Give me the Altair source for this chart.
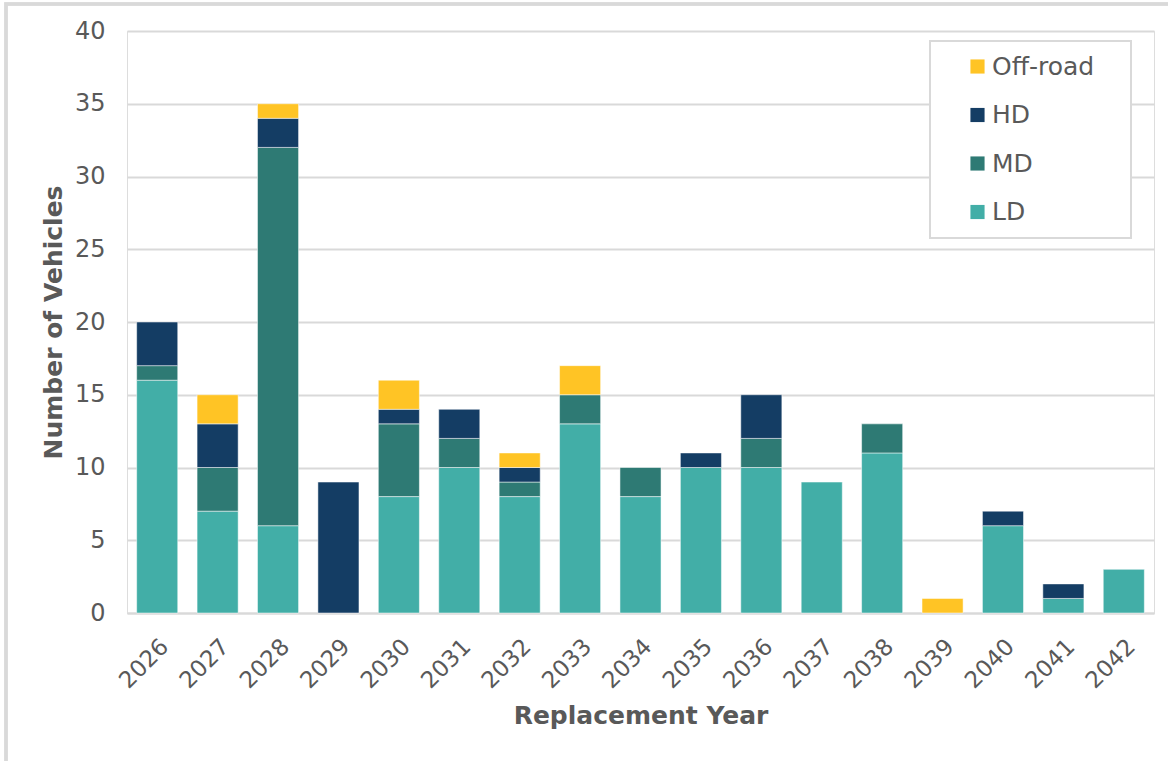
import altair as alt
import pandas as pd

years = [str(y) for y in range(2026, 2043)]
ld = [16, 7, 6, 0, 8, 10, 8, 13, 8, 10, 10, 9, 11, 0, 6, 1, 3]
md = [1, 3, 26, 0, 5, 2, 1, 2, 2, 0, 2, 0, 2, 0, 0, 0, 0]
hd = [3, 3, 2, 9, 1, 2, 1, 0, 0, 1, 3, 0, 0, 0, 1, 1, 0]
offroad = [0, 2, 1, 0, 2, 0, 1, 2, 0, 0, 0, 0, 0, 1, 0, 0, 0]

categories = ["Off-road", "HD", "MD", "LD"]
colors = ["#FFC425", "#143D64", "#2E7A74", "#42AEA7"]
stack_rank = {"LD": 0, "MD": 1, "HD": 2, "Off-road": 3}

rows = []
for i, y in enumerate(years):
    for cat, vals in (("LD", ld), ("MD", md), ("HD", hd), ("Off-road", offroad)):
        if vals[i] > 0:
            rows.append({"year": y, "type": cat, "count": vals[i], "rank": stack_rank[cat]})
df = pd.DataFrame(rows)

FONT = "DejaVu Sans"
GREY = "#595959"
W, H = 1027, 582

bars = alt.Chart(df).mark_bar(stroke="white", strokeWidth=0.5).encode(
    x=alt.X("year:N", title="Replacement Year", sort=years,
            scale=alt.Scale(paddingInner=0.32, paddingOuter=0.16),
            axis=alt.Axis(labelAngle=-45, labelFontSize=23, labelColor=GREY, labelFont=FONT,
                          titleFontSize=25, titleFont=FONT, titleColor=GREY, titleFontWeight="bold",
                          titlePadding=11, ticks=False, domain=True, domainColor="#d9d9d9",
                          domainWidth=2, labelPadding=22)),
    y=alt.Y("count:Q", title="Number of Vehicles", stack="zero",
            scale=alt.Scale(domain=[0, 40]),
            axis=alt.Axis(values=[0, 5, 10, 15, 20, 25, 30, 35, 40], labelFontSize=24,
                          labelColor=GREY, labelFont=FONT, titleFontSize=25, titleFont=FONT,
                          titleColor=GREY, titleFontWeight="bold", titlePadding=8,
                          ticks=False, domain=False, gridColor="#d9d9d9", gridWidth=2,
                          labelPadding=22)),
    color=alt.Color("type:N", scale=alt.Scale(domain=categories, range=colors),
                    legend=alt.Legend(title=None, orient="none", legendX=838, legendY=23,
                                      labelFontSize=25, labelFont=FONT, labelColor=GREY,
                                      symbolType="square", symbolSize=200, symbolStrokeWidth=0,
                                      rowPadding=22.5, padding=0, labelOffset=2)),
    order=alt.Order("rank:Q", sort="ascending"),
)

legend_box = alt.Chart(df).mark_rect(fill="white", stroke="#d9d9d9", strokeWidth=2).encode(
    x=alt.value(803), x2=alt.value(1004), y=alt.value(10), y2=alt.value(207)
)

frame = alt.Chart(df).mark_rect(fill=None, stroke="#d9d9d9", strokeWidth=2.5).encode(
    x=alt.value(-121), x2=alt.value(1100), y=alt.value(-27), y2=alt.value(800)
)

chart = alt.layer(frame, bars, legend_box).properties(
    width=W, height=H,
    autosize=alt.AutoSizeParams(type="none"),
    padding={"left": 127, "top": 31, "right": 14, "bottom": 148},
).configure_view(stroke=None).configure(background="white")

chart.save("out.html", embed_options={"renderer": "svg", "actions": False})
